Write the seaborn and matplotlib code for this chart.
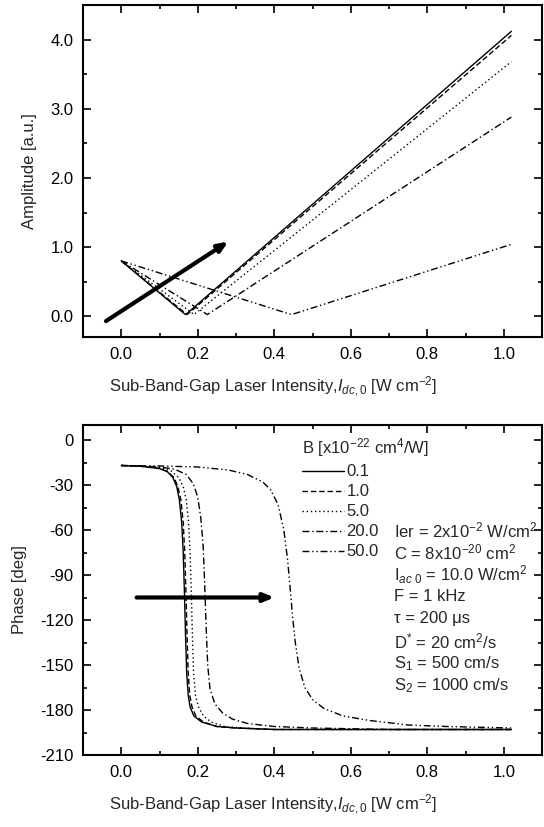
import matplotlib
matplotlib.use("Agg")
import matplotlib.pyplot as plt
import seaborn as sns
import numpy as np
import pandas as pd
from matplotlib.ticker import MultipleLocator, FormatStrFormatter

# ---------------- data ----------------
B_labels = ["0.1", "1.0", "5.0", "20.0", "50.0"]

# Amplitude (top panel)
amp_x_01 = [0.0, 0.160, 0.168, 0.176, 1.02]
amp_y_01 = [0.80, 0.06, 0.025, 0.06, 4.12]
amp_x_1 = [0.0, 0.164, 0.172, 0.180, 1.02]
amp_y_1 = [0.80, 0.06, 0.025, 0.06, 4.06]
amp_x_5 = [0.0, 0.182, 0.190, 0.198, 1.02]
amp_y_5 = [0.80, 0.06, 0.025, 0.06, 3.68]
amp_x_20 = [0.0, 0.215, 0.225, 0.235, 1.02]
amp_y_20 = [0.80, 0.06, 0.025, 0.06, 2.88]
amp_x_50 = [0.0, 0.430, 0.445, 0.460, 1.02]
amp_y_50 = [0.80, 0.05, 0.025, 0.05, 1.04]

# Phase (bottom panel)
ph_x_01 = [0.0, 0.05, 0.10, 0.12, 0.135, 0.145, 0.152, 0.158, 0.162, 0.165, 0.168,
           0.171, 0.175, 0.180, 0.19, 0.21, 0.25, 0.30, 0.40, 0.60, 1.02]
ph_y_01 = [-17, -17.5, -19, -21, -25, -31, -40, -55, -75, -100, -130,
           -155, -170, -178, -184, -188, -191, -192, -193, -193, -193]
ph_x_1 = [0.0, 0.05, 0.10, 0.12, 0.138, 0.148, 0.156, 0.162, 0.166, 0.169, 0.172,
          0.175, 0.179, 0.185, 0.195, 0.215, 0.25, 0.30, 0.40, 0.60, 1.02]
ph_y_1 = [-17, -17.5, -19, -21, -25, -31, -40, -55, -75, -100, -130,
          -155, -170, -178, -184, -188, -191, -192, -193, -193, -193]
ph_x_5 = [0.0, 0.05, 0.10, 0.13, 0.150, 0.162, 0.170, 0.176, 0.180, 0.183, 0.186,
          0.189, 0.194, 0.202, 0.215, 0.235, 0.27, 0.32, 0.40, 0.60, 1.02]
ph_y_5 = [-17, -17.5, -18.5, -20.5, -25, -31, -40, -55, -75, -100, -130,
          -155, -170, -178, -184, -188, -191, -192, -193, -193, -193]
ph_x_20 = [0.0, 0.05, 0.10, 0.14, 0.170, 0.188, 0.200, 0.208, 0.214, 0.218, 0.222,
           0.226, 0.232, 0.245, 0.265, 0.29, 0.33, 0.40, 0.50, 0.70, 1.02]
ph_y_20 = [-17, -17.3, -18, -19.5, -23, -29, -38, -52, -70, -95, -125,
           -150, -166, -176, -182, -186, -189, -191, -192, -193, -193]
ph_x_50 = [0.0, 0.10, 0.20, 0.28, 0.33, 0.37, 0.39, 0.41, 0.425, 0.435, 0.442,
           0.448, 0.455, 0.465, 0.48, 0.50, 0.53, 0.58, 0.65, 0.75, 0.85, 1.02]
ph_y_50 = [-17, -17.3, -18, -20, -23, -28, -33, -43, -60, -80, -100,
           -118, -135, -152, -165, -173, -179, -184, -187, -190, -191, -192]

amp_x = [amp_x_01, amp_x_1, amp_x_5, amp_x_20, amp_x_50]
amp_y = [amp_y_01, amp_y_1, amp_y_5, amp_y_20, amp_y_50]
ph_x = [ph_x_01, ph_x_1, ph_x_5, ph_x_20, ph_x_50]
ph_y = [ph_y_01, ph_y_1, ph_y_5, ph_y_20, ph_y_50]

param_lines = [
    "Ier = 2x10$^{-2}$ W/cm$^2$",
    "C = 8x10$^{-20}$ cm$^2$",
    "I$_{ac\\ 0}$ = 10.0 W/cm$^2$",
    "F = 1 kHz",
    "\u03c4 = 200 \u03bcs",
    "D$^{*}$ = 20 cm$^2$/s",
    "S$_1$ = 500 cm/s",
    "S$_2$ = 1000 cm/s",
]

# ---------------- style ----------------
sns.set_style("ticks")
plt.rcParams["font.family"] = ["Liberation Sans", "DejaVu Sans"]
plt.rcParams["mathtext.fontset"] = "custom"
plt.rcParams["mathtext.rm"] = "Liberation Sans"
plt.rcParams["mathtext.it"] = "Liberation Sans:italic"
plt.rcParams["mathtext.bf"] = "Liberation Sans:bold"
plt.rcParams["axes.unicode_minus"] = False

styles = ["-", (0, (4, 2)), (0, (1, 2)), (0, (5, 2, 1, 2)), (0, (5, 2, 1, 2, 1, 2))]

fs = 12
fig = plt.figure(figsize=(5.44, 8.27), dpi=100)
ax1 = fig.add_axes([83 / 544, 1 - 337 / 827, (542 - 83) / 544, (337 - 5) / 827])
ax2 = fig.add_axes([83 / 544, 1 - 755 / 827, (542 - 83) / 544, (755 - 425) / 827])

for i in range(5):
    d = pd.DataFrame({"x": amp_x[i], "y": amp_y[i]})
    sns.lineplot(data=d, x="x", y="y", ax=ax1, color="black", linewidth=1.0,
                 linestyle=styles[i], sort=False, estimator=None)
    d2 = pd.DataFrame({"x": ph_x[i], "y": ph_y[i]})
    sns.lineplot(data=d2, x="x", y="y", ax=ax2, color="black", linewidth=1.0,
                 linestyle=styles[i], sort=False, estimator=None, label=B_labels[i])

xlabel = "Sub-Band-Gap Laser Intensity,$\\mathit{I}_{dc,0}$ [W cm$^{-2}$]"

for ax in (ax1, ax2):
    ax.set_xlim(-0.1, 1.1)
    ax.xaxis.set_major_locator(MultipleLocator(0.2))
    ax.xaxis.set_minor_locator(MultipleLocator(0.1))
    ax.xaxis.set_major_formatter(FormatStrFormatter("%.1f"))
    ax.tick_params(which="both", direction="in", top=True, right=True,
                   labelsize=fs, width=1.2, colors="black", pad=7)
    ax.tick_params(which="major", length=6)
    ax.tick_params(which="minor", length=3)
    for s in ax.spines.values():
        s.set_linewidth(1.5)
        s.set_color("black")
    ax.set_xlabel(xlabel, fontsize=fs)
    ax.xaxis.set_label_coords(0.414, -0.115)

ax1.set_ylim(-0.3, 4.5)
ax1.yaxis.set_major_locator(MultipleLocator(1.0))
ax1.yaxis.set_minor_locator(MultipleLocator(0.5))
ax1.yaxis.set_major_formatter(FormatStrFormatter("%.1f"))
ax1.set_ylabel("Amplitude [a.u.]", fontsize=fs)
ax1.yaxis.set_label_coords(-0.10, 0.5)

ax2.set_ylim(-210, 10)
ax2.yaxis.set_major_locator(MultipleLocator(30))
ax2.yaxis.set_minor_locator(MultipleLocator(15))
ax2.set_ylabel("Phase [deg]", fontsize=fs)
ax2.yaxis.set_label_coords(-0.122, 0.5)

# arrows
ax1.annotate("", xy=(0.28, 1.08), xytext=(-0.04, -0.07),
             arrowprops=dict(arrowstyle="-|>,head_length=0.6,head_width=0.25",
                             lw=3.0, color="black", shrinkA=0, shrinkB=0))
ax2.annotate("", xy=(0.40, -105), xytext=(0.04, -105),
             arrowprops=dict(arrowstyle="-|>,head_length=0.6,head_width=0.25",
                             lw=3.0, color="black", shrinkA=0, shrinkB=0))

# legend
leg = ax2.legend(loc="upper left", bbox_to_anchor=(0.478, 0.965), frameon=False,
                 title="B [x10$^{-22}$ cm$^4$/W]", fontsize=fs, title_fontsize=fs,
                 handlelength=2.5, handletextpad=0.15, labelspacing=0.3,
                 borderpad=0, borderaxespad=0)
leg._legend_box.align = "left"

# parameter text
y0 = -60
for k, t in enumerate(param_lines):
    ax2.text(0.712, y0 - 14.8 * k, t, fontsize=fs, va="center", ha="left")

fig.savefig("out.png", dpi=100)
